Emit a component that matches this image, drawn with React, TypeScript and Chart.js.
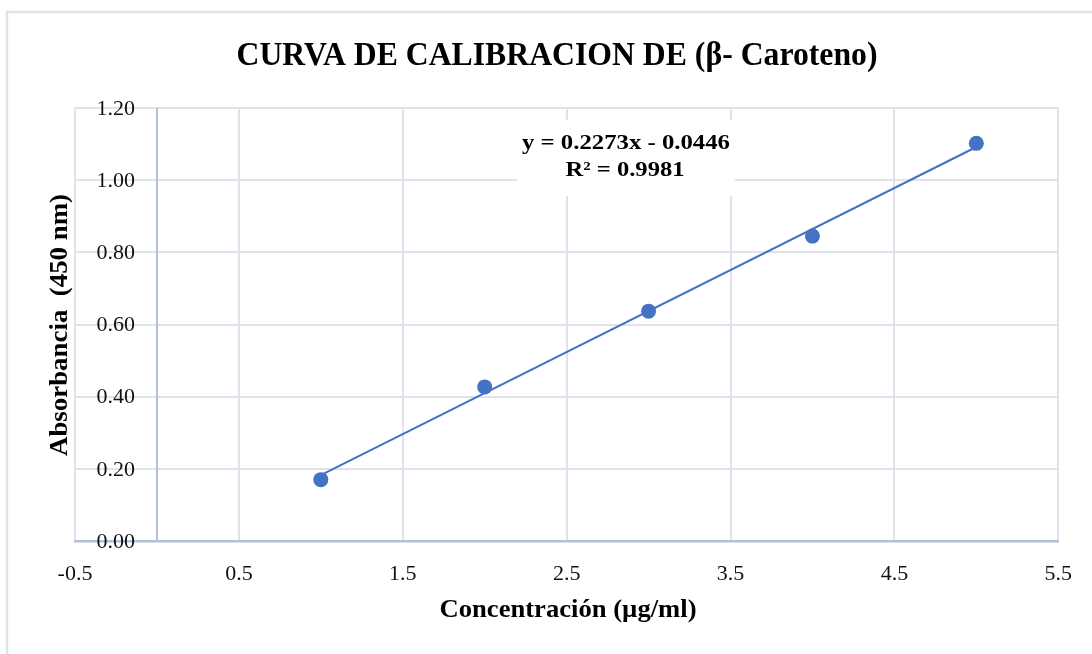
import React, { useEffect, useRef } from "react";
import { Chart, registerables } from "chart.js";

Chart.register(...registerables);

const chartTitle = "CURVA DE CALIBRACION DE (β- Caroteno)";
const xAxisTitle = "Concentración (µg/ml)";
const yAxisTitle = "Absorbancia  (450 nm)";
const xTickValues = [-0.5, 0.5, 1.5, 2.5, 3.5, 4.5, 5.5];
const yTickValues = [0, 0.2, 0.4, 0.6, 0.8, 1.0, 1.2];
const concentration = [1, 2, 3, 4, 5];
const absorbance = [0.17, 0.427, 0.637, 0.845, 1.102];
const trendSlope = 0.2273;
const trendIntercept = -0.0446;
const trendX = [1, 5];
const equationLines = ["y = 0.2273x - 0.0446", "R² = 0.9981"];

const SERIF = '"Liberation Serif", "Times New Roman", serif';
const BLUE = "#4472c4";
const GRID = "#dfe4ec";
const AXIS = "#b4c0d3";

function fitText(ctx: CanvasRenderingContext2D, text: string, x: number, y: number, font: string, width: number, rotate = 0) {
  ctx.save();
  ctx.font = font;
  ctx.textAlign = "center";
  ctx.textBaseline = "middle";
  const w = ctx.measureText(text).width;
  ctx.translate(x, y);
  if (rotate) ctx.rotate(rotate);
  ctx.scale(width / w, 1);
  ctx.fillText(text, 0, 0);
  ctx.restore();
}

const decorPlugin = {
  id: "decor",
  beforeDraw(chart: any) {
    const ctx = chart.ctx as CanvasRenderingContext2D;
    ctx.save();
    ctx.fillStyle = "#ffffff";
    ctx.fillRect(0, 0, chart.width, chart.height);
    ctx.strokeStyle = "#dde3ea";
    ctx.lineWidth = 2.5;
    ctx.strokeRect(7, 12, 1300, 1000);
    ctx.restore();
  },
  beforeDatasetsDraw(chart: any) {
    const ctx = chart.ctx as CanvasRenderingContext2D;
    const xs = chart.scales.x;
    const area = chart.chartArea;
    const x0 = Math.round(xs.getPixelForValue(0));
    ctx.save();
    ctx.strokeStyle = AXIS;
    ctx.lineWidth = 2;
    ctx.beginPath();
    ctx.moveTo(x0, area.top);
    ctx.lineTo(x0, area.bottom);
    ctx.stroke();
    // equation label background
    ctx.fillStyle = "#ffffff";
    ctx.fillRect(517, 120, 218, 76);
    ctx.restore();
  },
  afterDraw(chart: any) {
    const ctx = chart.ctx as CanvasRenderingContext2D;
    const ys = chart.scales.y;
    ctx.save();
    ctx.font = `22px ${SERIF}`;
    ctx.textAlign = "right";
    ctx.textBaseline = "middle";
    ctx.fillStyle = "#111111";
    yTickValues.forEach((v) => {
      ctx.fillText(v.toFixed(2), 135, ys.getPixelForValue(v) + 1);
    });
    ctx.fillStyle = "#000000";
    fitText(ctx, chartTitle, 557, 56, `bold 33px ${SERIF}`, 641);
    fitText(ctx, xAxisTitle, 568, 610, `bold 26px ${SERIF}`, 257);
    fitText(ctx, yAxisTitle, 60, 325, `bold 26px ${SERIF}`, 262, -Math.PI / 2);
    fitText(ctx, equationLines[0], 626, 143, `bold 22px ${SERIF}`, 208);
    fitText(ctx, equationLines[1], 625, 170, `bold 22px ${SERIF}`, 119);
    ctx.restore();
  },
};

export default function App() {
  const ref = useRef<HTMLCanvasElement | null>(null);
  useEffect(() => {
    if (!ref.current) return;
    const points = concentration.map((x, i) => ({ x, y: absorbance[i] }));
    const trend = trendX.map((x) => ({ x, y: trendSlope * x + trendIntercept }));
    const chart = new Chart(ref.current, {
      type: "scatter",
      data: {
        datasets: [
          {
            label: "Tendencia",
            data: trend,
            showLine: true,
            borderColor: BLUE,
            borderWidth: 2,
            pointRadius: 0,
            order: 0,
          },
          {
            label: "Absorbancia",
            data: points,
            backgroundColor: BLUE,
            borderColor: BLUE,
            pointRadius: 7.5,
            pointBorderWidth: 0,
            order: 1,
          },
        ],
      },
      plugins: [decorPlugin],
      options: {
        animation: false,
        responsive: false,
        devicePixelRatio: 1,
        layout: { padding: { top: 108, left: 0, right: 32, bottom: 0 } },
        plugins: { legend: { display: false }, title: { display: false }, tooltip: { enabled: false } },
        scales: {
          x: {
            type: "linear",
            min: -0.5,
            max: 5.5,
            afterBuildTicks: (scale: any) => {
              scale.ticks = xTickValues.map((v) => ({ value: v }));
            },
            afterFit: (scale: any) => {
              scale.height = 113;
            },
            grid: { color: GRID, lineWidth: 2, drawTicks: false },
            border: { display: true, color: AXIS, width: 2.5 },
            ticks: {
              padding: 20,
              color: "#111111",
              font: { family: SERIF, size: 22 },
              callback: (v: any) => String(v),
            },
          },
          y: {
            type: "linear",
            min: 0,
            max: 1.2,
            afterBuildTicks: (scale: any) => {
              scale.ticks = yTickValues.map((v) => ({ value: v }));
            },
            afterFit: (scale: any) => {
              scale.width = 75;
            },
            grid: { color: GRID, lineWidth: 2, drawTicks: false },
            border: { display: false },
            ticks: { display: false },
          },
        },
      },
    });
    return () => chart.destroy();
  }, []);
  return (
    <div style={{ position: "absolute", left: 0, top: 0, width: 1092, height: 654, background: "#fff" }}>
      <canvas ref={ref} width={1092} height={654} style={{ display: "block" }} />
    </div>
  );
}
